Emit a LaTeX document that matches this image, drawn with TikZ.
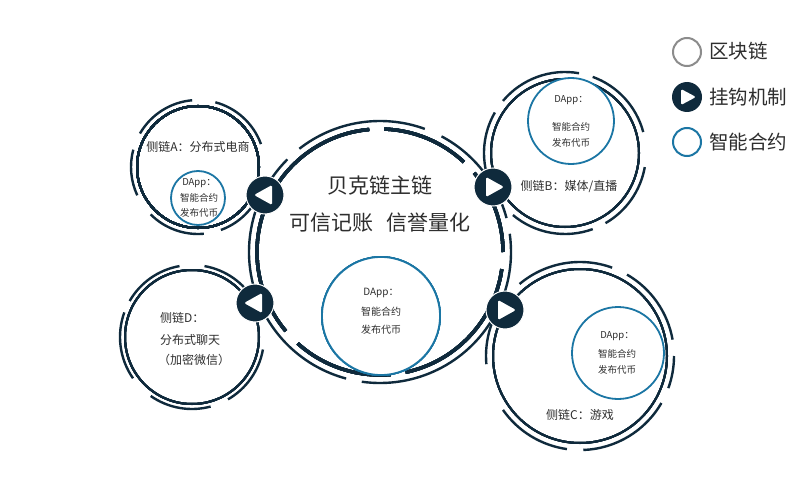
\documentclass[tikz,border=0pt]{standalone}
\usepackage{fontspec}
\usetikzlibrary{calc}
\setmainfont{Noto Sans CJK SC}
\definecolor{navy}{HTML}{0F2A3C}
\definecolor{dblue}{HTML}{1B76A4}
\definecolor{tgray}{HTML}{2E2E2E}
\definecolor{lgray}{HTML}{8C8C8C}
\newcommand{\sarc}[5][]{\draw[#1] (#2) ++({-(#4)}:#3) arc[start angle={-(#4)}, end angle={-(#5)}, radius=#3];}
\tikzset{
  thinring/.style={draw=navy, line width=2pt},
  thickseg/.style={draw=navy, line width=3.4pt},
  outseg/.style={draw=navy, line width=2.4pt},
  dapp/.style={circle, draw=dblue, line width=1.8pt, inner sep=0pt},
  hookc/.style={circle, fill=navy, draw=white, line width=1pt, minimum size=38pt, inner sep=0pt},
  tri/.style={fill=white, rounded corners=1.5pt},
  small/.style={text=tgray, font=\fontsize{9.5}{11}\selectfont, inner sep=0pt},
  side/.style={text=tgray, font=\fontsize{12}{14}\selectfont, inner sep=0pt},
  big/.style={text=tgray, font=\fontsize{21}{24}\selectfont, inner sep=0pt},
  leg/.style={text=tgray, font=\fontsize{19.5}{21}\selectfont, inner sep=0pt, anchor=west}
}
\begin{document}
\begin{tikzpicture}[x=1pt,y=-1pt]
\useasboundingbox (0,0) rectangle (800,500);
\fill[white] (0,0) rectangle (800,500);
% centres
\coordinate (M) at (380,252);
\coordinate (A) at (198,167);
\coordinate (B) at (565,153);
\coordinate (C) at (580,356);
\coordinate (D) at (192,337);
% main chain rings
\foreach \a/\b in {15/62,70/128,135/200,207/255,262/330,338/368}
  \sarc[outseg]{M}{131}{\a}{\b}
\foreach \a/\b in {0/40,47/88,95/150,158/220,228/275,282/352}
  \sarc[thickseg]{M}{123}{\a}{\b}
% side A
\draw[thinring] (A) circle[radius=61];
\foreach \a/\b in {20/75,95/150,165/205,225/275,290/345}
  \sarc[outseg]{A}{67}{\a}{\b}
% side B
\draw[thinring] (B) circle[radius=74];
\foreach \a/\b in {15/70,80/140,150/200,230/290,300/350}
  \sarc[outseg]{B}{81}{\a}{\b}
% side C
\draw[thinring] (C) circle[radius=87];
\foreach \a/\b in {10/60,70/130,140/185,215/262,272/330,340/360}
  \sarc[outseg]{C}{94}{\a}{\b}
% side D
\draw[thinring] (D) circle[radius=67];
\foreach \a/\b in {30/80,100/150,160/215,235/285,300/350}
  \sarc[outseg]{D}{72}{\a}{\b}
% dapp circles
\node[dapp, minimum size=118pt, fill=white] (dM) at (381,316) {};
\node[dapp, minimum size=54pt, fill=white] (dA) at (198,198) {};
\node[dapp, minimum size=86pt, fill=white] (dB) at (571,121) {};
\node[dapp, minimum size=92pt, fill=white] (dC) at (618,353) {};
% texts
\node[big] (t1) at (380,186) {贝克链主链};
\node[big] (t2) at (380,223) {可信记账\hspace{0.6em}信誉量化};
\node[small, font=\fontsize{10}{11}\selectfont] (m1) at (381,293) {DApp：};
\node[small, font=\fontsize{10}{11}\selectfont] (m2) at (381,312) {智能合约};
\node[small, font=\fontsize{10}{11}\selectfont] (m3) at (381,330) {发布代币};
\node[side] (la) at (198,147) {侧链A：分布式电商};
\node[small] (a1) at (199,183) {DApp：};
\node[small] (a2) at (199,198) {智能合约};
\node[small] (a3) at (199,213) {发布代币};
\node[small] (b1) at (571,100) {DApp：};
\node[small] (b2) at (571,127) {智能合约};
\node[small] (b3) at (571,143) {发布代币};
\node[side] (lb) at (569,187) {侧链B：媒体/直播};
\node[small] (c1) at (617,336) {DApp：};
\node[small] (c2) at (617,354) {智能合约};
\node[small] (c3) at (617,370) {发布代币};
\node[side] (lc) at (580,415) {侧链C：游戏};
\node[side, anchor=west] (d1) at (160,318) {侧链D：};
\node[side, anchor=west] (d2) at (160,340) {分布式聊天};
\node[side, anchor=west] (d3) at (158,360) {（加密微信）};
% hooks
\node[hookc] (hA) at (265,195) {};
\fill[tri] ($(hA)+(-11,0)$) -- ($(hA)+(7,-10)$) -- ($(hA)+(7,10)$) -- cycle;
\node[hookc] (hD) at (255,303) {};
\fill[tri] ($(hD)+(-11,0)$) -- ($(hD)+(7,-10)$) -- ($(hD)+(7,10)$) -- cycle;
\node[hookc] (hB) at (493,187) {};
\fill[tri] ($(hB)+(11,0)$) -- ($(hB)+(-7,-10)$) -- ($(hB)+(-7,10)$) -- cycle;
\node[hookc] (hC) at (505,310) {};
\fill[tri] ($(hC)+(11,0)$) -- ($(hC)+(-7,-10)$) -- ($(hC)+(-7,10)$) -- cycle;
% legend
\node[circle, draw=lgray, line width=2pt, minimum size=28pt, inner sep=0pt] (g1) at (687,52) {};
\node[leg] (l1) at (709,51) {区块链};
\node[circle, fill=navy, minimum size=30pt, inner sep=0pt] (g2) at (687,97) {};
\fill[tri] ($(g2)+(9,0)$) -- ($(g2)+(-6,-8)$) -- ($(g2)+(-6,8)$) -- cycle;
\node[leg] (l2) at (709,97) {挂钩机制};
\node[circle, draw=dblue, line width=2pt, minimum size=28pt, inner sep=0pt] (g3) at (687,142) {};
\node[leg] (l3) at (709,142) {智能合约};
\end{tikzpicture}
\end{document}
